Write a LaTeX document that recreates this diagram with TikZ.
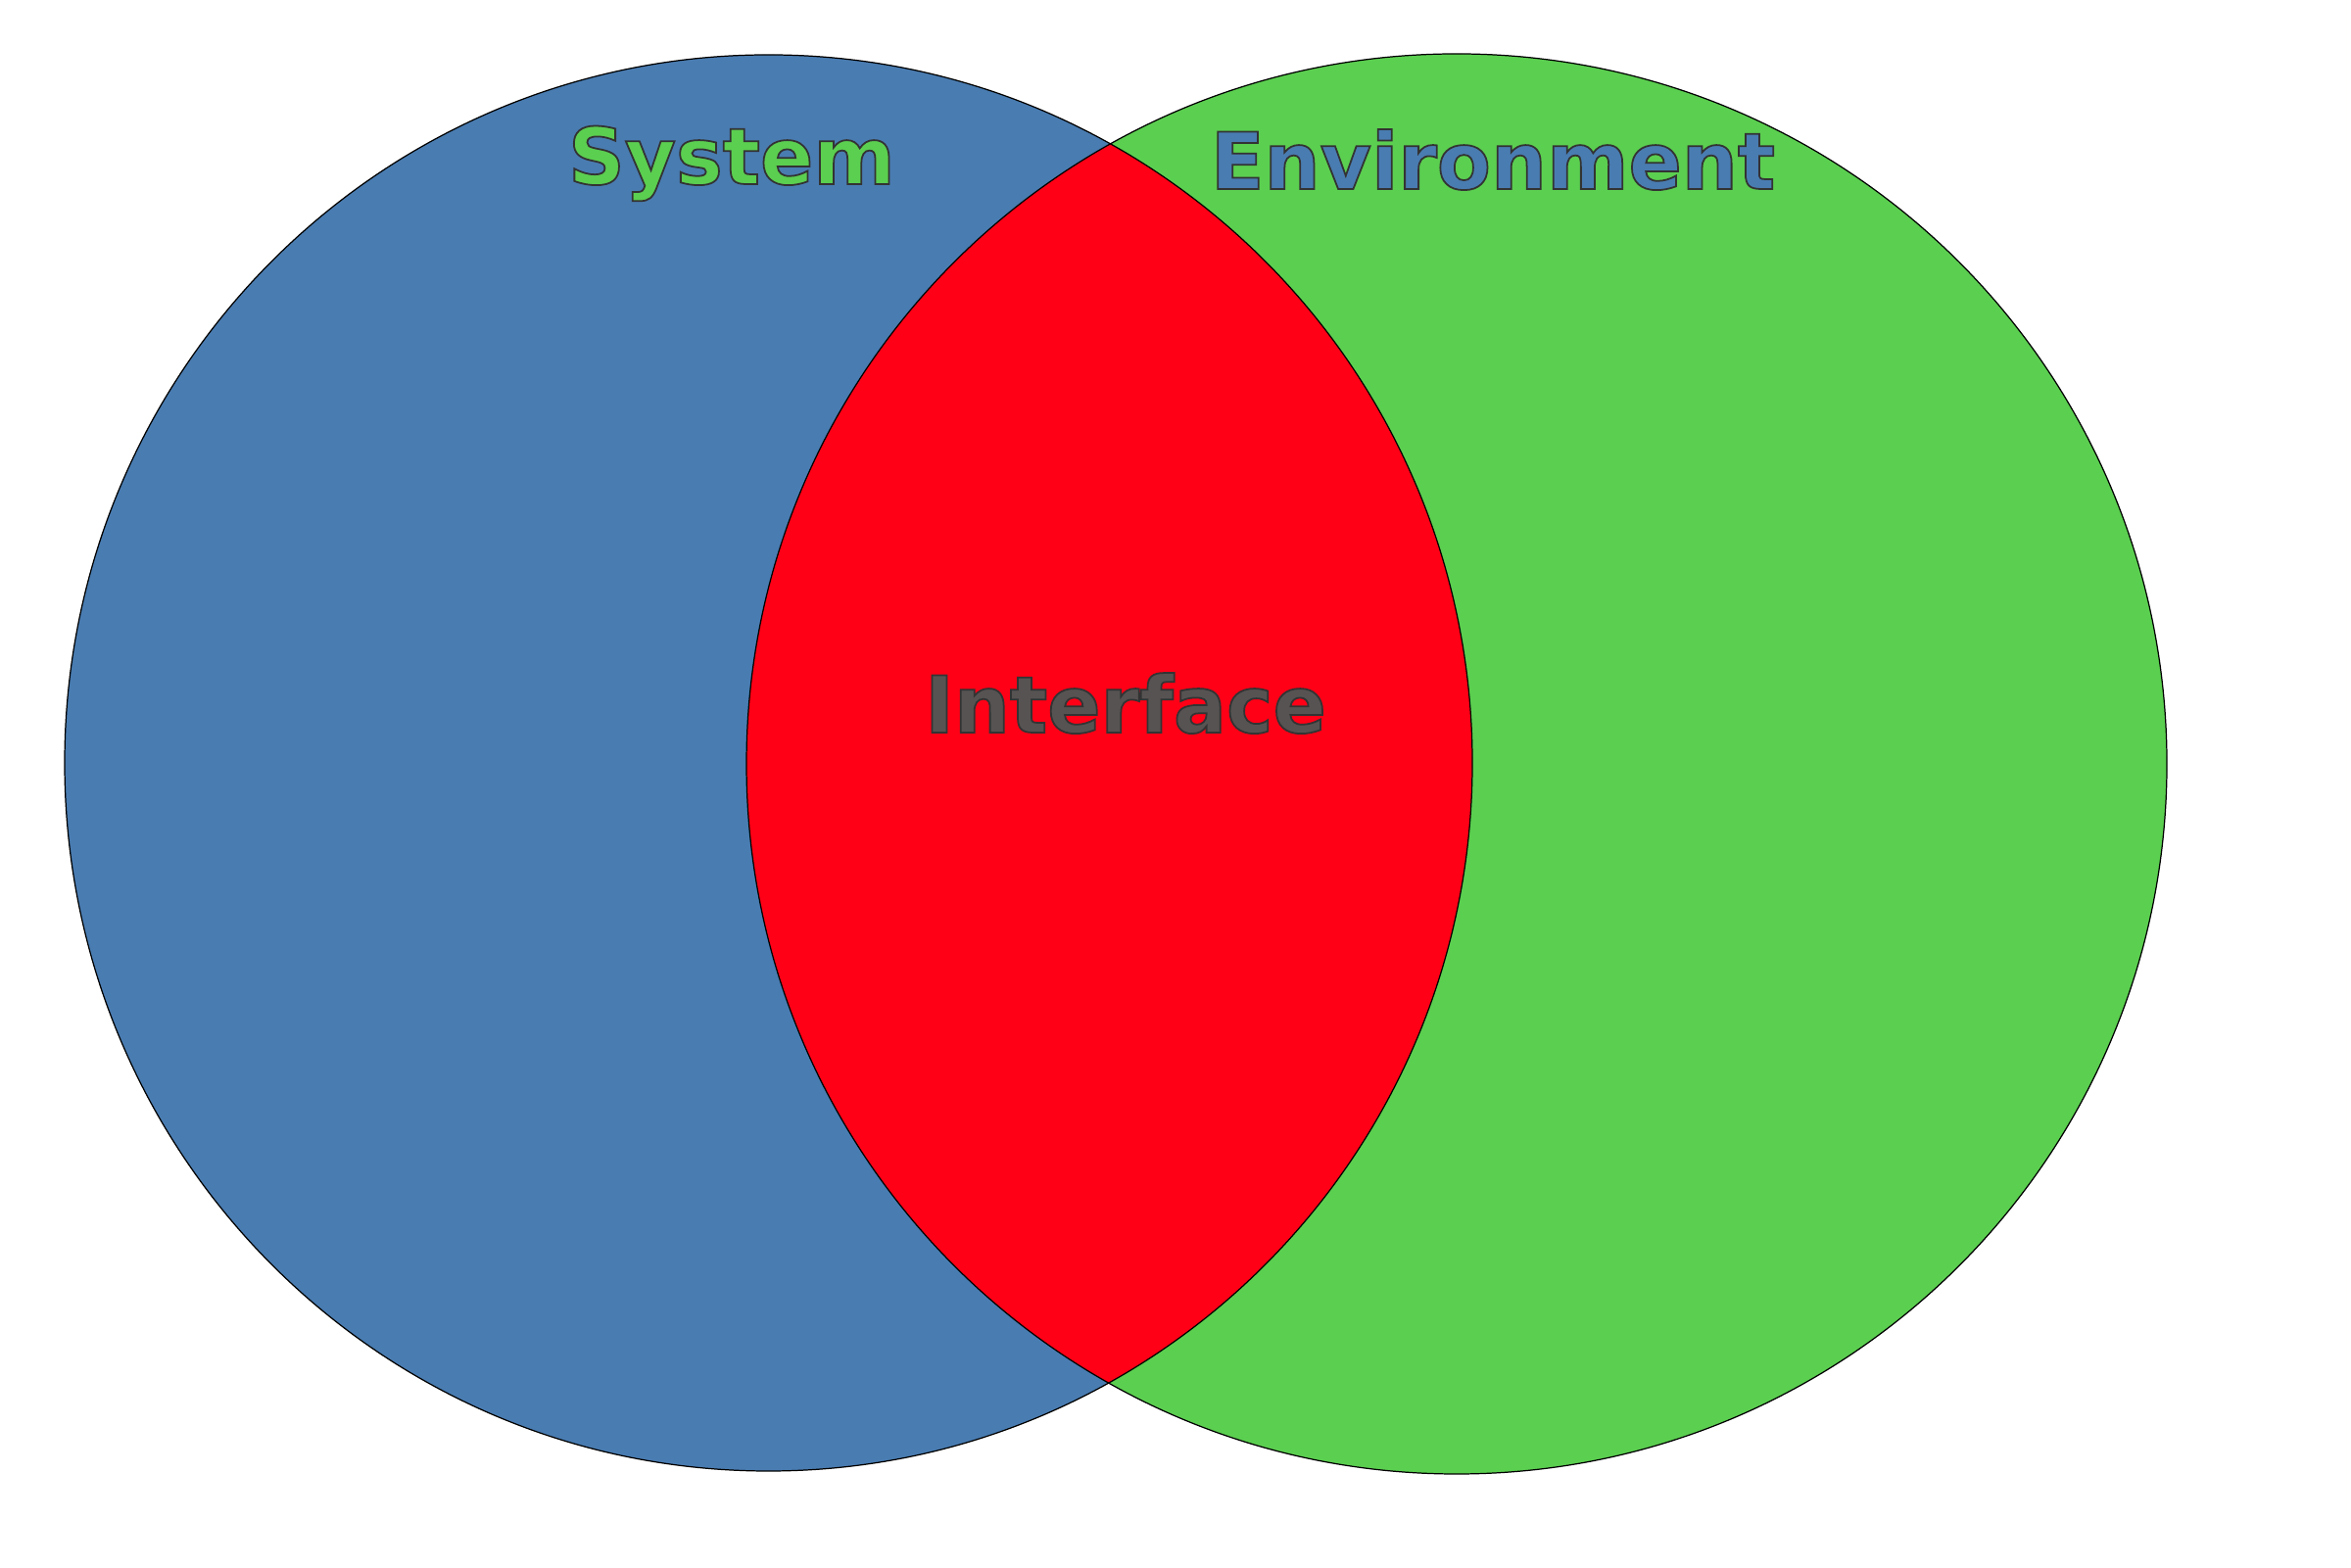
\documentclass[tikz,border=0pt]{standalone}
\usepackage{fontspec}
\setmainfont{DejaVu Sans}
\definecolor{sysblue}{HTML}{497CB1}
\definecolor{envgreen}{HTML}{5BCF50}
\definecolor{ifred}{HTML}{FF0016}
\definecolor{ifgray}{HTML}{575353}
\newcommand{\outlined}[1]{\special{pdf:literal q 2 Tr 0.5 w 0.2 0.2 0.2 RG}#1\special{pdf:literal Q}}
\tikzset{
  label/.style={font=\bfseries\fontsize{22.8}{27}\selectfont, anchor=base, inner sep=0pt},
  rim/.style={draw=black, line width=0.35pt}
}
\begin{document}
\begin{tikzpicture}
\useasboundingbox (0,0) rectangle (24,16);
\fill[white] (0,0) rectangle (24,16);
\coordinate (cs) at (7.845,8.21);
\coordinate (ce) at (14.87,8.20);
\fill[sysblue] (cs) ellipse [x radius=7.185, y radius=7.23];
\fill[envgreen] (ce) circle [radius=7.25];
\begin{scope}
  \clip (cs) ellipse [x radius=7.185, y radius=7.23];
  \fill[ifred] (ce) circle [radius=7.25];
\end{scope}
\draw[rim] (cs) ellipse [x radius=7.185, y radius=7.23];
\draw[rim] (ce) circle [radius=7.25];
\node[label, text=envgreen] (sys) at (7.47,14.12) {\outlined{System}};
\node[label, text=sysblue] (env) at (15.24,14.07) {\outlined{Environment}};
\node[label, text=ifgray] (intf) at (11.49,8.52) {\outlined{Interface}};
\end{tikzpicture}
\end{document}
